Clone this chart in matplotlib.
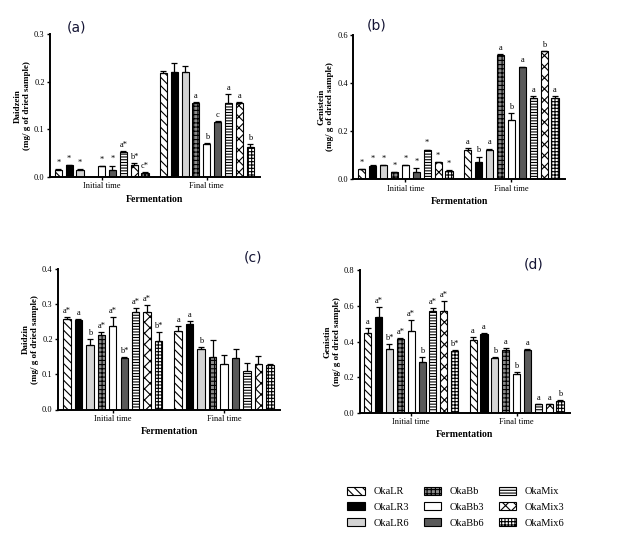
import numpy as np
import matplotlib
matplotlib.use('Agg')
import matplotlib.pyplot as plt
from matplotlib.patches import Patch

plt.rcParams['font.family'] = 'Liberation Serif'
plt.rcParams['hatch.linewidth'] = 0.8

samples = ['OkaLR', 'OkaLR3', 'OkaLR6', 'OkaBb', 'OkaBb3', 'OkaBb6', 'OkaMix', 'OkaMix3', 'OkaMix6']
groups = ['Initial time', 'Final time']

# (a) daidzein
daidzein_init = [0.015, 0.025, 0.015, 0.0, 0.022, 0.014, 0.053, 0.026, 0.009]
daidzein_init_err = [0.002, 0.001, 0.002, 0.0, 0.001, 0.010, 0.001, 0.003, 0.001]
daidzein_final = [0.219, 0.220, 0.220, 0.156, 0.069, 0.115, 0.155, 0.156, 0.064]
daidzein_final_err = [0.003, 0.019, 0.013, 0.001, 0.003, 0.002, 0.019, 0.001, 0.006]
daidzein_init_lbl = ['*', '*', '*', '', '*', '*', 'a*', 'b*', 'c*']
daidzein_final_lbl = ['', '', '', 'a', 'b', 'c', 'a', 'a', 'b']

# (b) genistein
genistein_init = [0.041, 0.056, 0.058, 0.030, 0.057, 0.030, 0.120, 0.070, 0.035]
genistein_init_err = [0.002, 0.002, 0.002, 0.001, 0.002, 0.018, 0.003, 0.001, 0.002]
genistein_final = [0.120, 0.070, 0.119, 0.517, 0.245, 0.466, 0.336, 0.532, 0.336]
genistein_final_err = [0.008, 0.024, 0.008, 0.003, 0.029, 0.002, 0.008, 0.002, 0.008]
genistein_init_lbl = ['*'] * 9
genistein_final_lbl = ['a', 'b', 'a', 'a', 'b', 'a', 'a', 'b', 'a']

# (c) daidzin
daidzin_init = [0.259, 0.254, 0.184, 0.213, 0.237, 0.147, 0.278, 0.278, 0.194]
daidzin_init_err = [0.005, 0.005, 0.017, 0.009, 0.027, 0.002, 0.010, 0.021, 0.028]
daidzin_final = [0.225, 0.243, 0.173, 0.150, 0.130, 0.147, 0.110, 0.130, 0.128]
daidzin_final_err = [0.013, 0.009, 0.005, 0.049, 0.025, 0.026, 0.022, 0.022, 0.002]
daidzin_init_lbl = ['a*', 'a', 'b', 'a*', 'a*', 'b*', 'a*', 'a*', 'b*']
daidzin_final_lbl = ['a', 'a', 'b', '', '', '', '', '', '']

# (d) genistin
genistin_init = [0.447, 0.540, 0.357, 0.415, 0.460, 0.285, 0.571, 0.571, 0.348]
genistin_init_err = [0.027, 0.052, 0.028, 0.004, 0.060, 0.028, 0.015, 0.058, 0.002]
genistin_final = [0.409, 0.443, 0.309, 0.353, 0.218, 0.353, 0.047, 0.047, 0.065]
genistin_final_err = [0.015, 0.005, 0.005, 0.012, 0.011, 0.004, 0.002, 0.002, 0.005]
genistin_init_lbl = ['a', 'a*', 'b*', 'a*', 'a*', 'b', 'a*', 'a*', 'b*']
genistin_final_lbl = ['a', 'a', 'b', 'a', 'b', 'a', 'a', 'a', 'b']

faces = ['white', 'black', '#d4d4d4', '#8c8c8c', 'white', '#5a5a5a', 'white', 'white', 'white']
hatches = ['\\\\\\\\', None, None, '++++', None, None, '------', 'xxx', '+++++']

panels = [
    ([0.081, 0.676, 0.338, 0.261], 'Daidzein', 0.3, 0.1, daidzein_init, daidzein_init_err, daidzein_final, daidzein_final_err, daidzein_init_lbl, daidzein_final_lbl),
    ([0.570, 0.672, 0.341, 0.264], 'Genistein', 0.6, 0.2, genistein_init, genistein_init_err, genistein_final, genistein_final_err, genistein_init_lbl, genistein_final_lbl),
    ([0.094, 0.250, 0.358, 0.257], 'Daidzin', 0.4, 0.1, daidzin_init, daidzin_init_err, daidzin_final, daidzin_final_err, daidzin_init_lbl, daidzin_final_lbl),
    ([0.580, 0.244, 0.339, 0.261], 'Genistin', 0.8, 0.2, genistin_init, genistin_init_err, genistin_final, genistin_final_err, genistin_init_lbl, genistin_final_lbl),
]

centers = [0, 9.7]
offsets = np.arange(9) - 4
width = 0.65

fig = plt.figure(figsize=(6.2, 5.46), dpi=100)

for rect, name, ymax, step, v1, e1, v2, e2, l1, l2 in panels:
    ax = fig.add_axes(rect)
    for c, vals, errs, lbls in [(centers[0], v1, e1, l1), (centers[1], v2, e2, l2)]:
        xs = c + offsets
        for i in range(9):
            ax.bar(xs[i], vals[i], width, color=faces[i], edgecolor='black', hatch=hatches[i], linewidth=0.8)
            if errs[i] > 0:
                ax.errorbar(xs[i], vals[i], yerr=[[0], [errs[i]]], fmt='none', ecolor='black', elinewidth=0.9, capsize=2.2, capthick=0.9)
            if lbls[i]:
                ax.text(xs[i], vals[i] + errs[i] + ymax * 0.015, lbls[i], ha='center', va='bottom', fontsize=6)
    ax.set_xlim(-4.75, 14.6)
    ax.set_ylim(0, ymax)
    ax.set_yticks(np.arange(0, ymax + step / 2, step))
    ax.set_yticklabels(['%.1f' % t for t in np.arange(0, ymax + step / 2, step)], fontsize=6)
    ax.set_xticks(centers)
    ax.set_xticklabels(groups, fontsize=6)
    ax.tick_params(axis='both', direction='out', length=2.5, width=1, pad=1.5)
    for s in ['top', 'right']:
        ax.spines[s].set_visible(False)
    for s in ['left', 'bottom']:
        ax.spines[s].set_linewidth(1.4)
    ax.set_ylabel(name + '\n(mg/ g of dried sample)', fontsize=6.5, fontweight='bold', labelpad=2)
    ax.set_xlabel('Fermentation', fontsize=7, fontweight='bold', labelpad=3)

tags = [('(a)', 0.124, 0.949), ('(b)', 0.607, 0.954), ('(c)', 0.408, 0.529), ('(d)', 0.860, 0.515)]
for t, x, y in tags:
    fig.text(x, y, t, ha='center', va='center', fontsize=10, family='DejaVu Sans', color='#151535')

handles = [Patch(facecolor=faces[i], edgecolor='black', hatch=hatches[i], linewidth=0.8) for i in range(9)]
fig.legend(handles, samples, ncol=3, loc='center left', bbox_to_anchor=(0.545, 0.071),
           frameon=False, fontsize=7.5, handlelength=1.7, handleheight=0.8,
           handletextpad=0.8, columnspacing=1.4, labelspacing=0.6)

fig.savefig('out.png', dpi=100)
